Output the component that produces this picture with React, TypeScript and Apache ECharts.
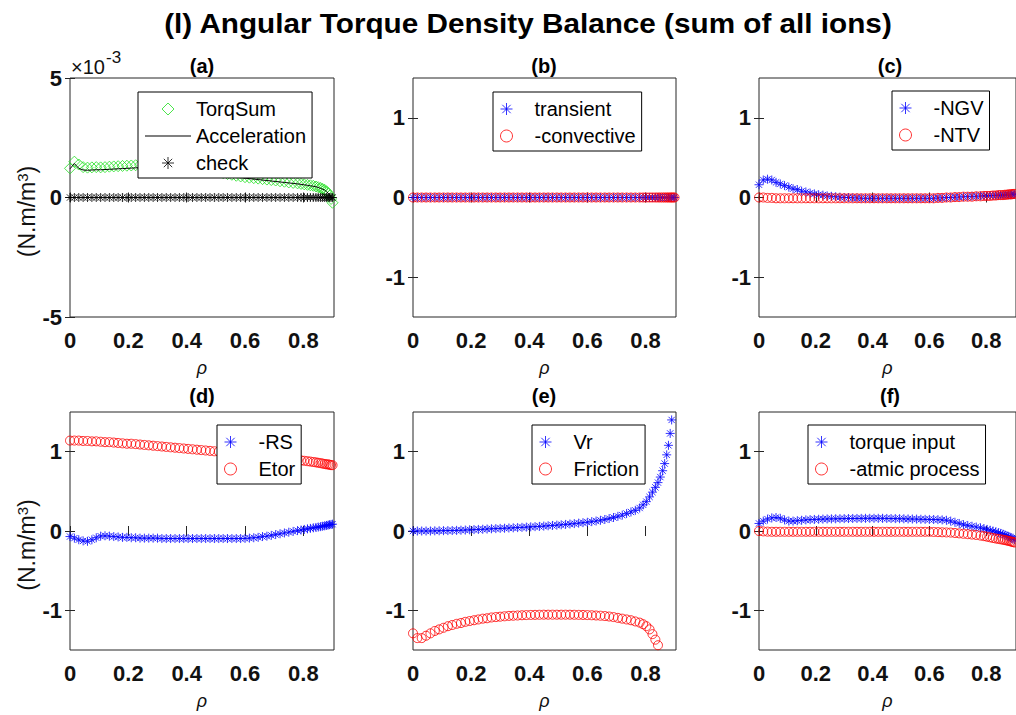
import React, { useEffect, useRef } from 'react';
import * as echarts from 'echarts';

// radial grid (normalized radius rho)
const rho = [
  0, 0.015, 0.03, 0.045, 0.06, 0.075, 0.09, 0.105, 0.12, 0.135,
  0.15, 0.165, 0.18, 0.195, 0.21, 0.225, 0.24, 0.255, 0.27, 0.285,
  0.3, 0.315, 0.33, 0.345, 0.36, 0.375, 0.39, 0.405, 0.42, 0.435,
  0.45, 0.465, 0.48, 0.495, 0.51, 0.525, 0.54, 0.555, 0.57, 0.585,
  0.6, 0.615, 0.63, 0.645, 0.66, 0.675, 0.69, 0.705, 0.72, 0.735,
  0.75, 0.765, 0.78, 0.792, 0.803, 0.814, 0.824, 0.834, 0.843, 0.851,
  0.859, 0.866, 0.873, 0.879, 0.885, 0.89, 0.895, 0.9,
];

// (a) values in units of 1e-3 N.m/m^3
const torqSum = [
  1.22, 1.5, 1.38, 1.27, 1.25, 1.26, 1.27, 1.26, 1.27, 1.29,
  1.3, 1.31, 1.32, 1.33, 1.34, 1.35, 1.36, 1.36, 1.37, 1.37,
  1.36, 1.35, 1.34, 1.33, 1.31, 1.29, 1.27, 1.25, 1.23, 1.2,
  1.17, 1.14, 1.11, 1.08, 1.05, 1.02, 0.98, 0.95, 0.91, 0.88,
  0.85, 0.83, 0.81, 0.79, 0.77, 0.75, 0.73, 0.71, 0.68, 0.66,
  0.63, 0.61, 0.59, 0.57, 0.55, 0.53, 0.51, 0.49, 0.46, 0.43,
  0.4, 0.36, 0.32, 0.26, 0.18, 0.08, -0.06, -0.22,
];
const acceleration = [
  1.2, 1.42, 1.22, 1.15, 1.14, 1.15, 1.16, 1.16, 1.17, 1.18,
  1.19, 1.2, 1.21, 1.22, 1.23, 1.24, 1.25, 1.26, 1.27, 1.27,
  1.27, 1.27, 1.26, 1.25, 1.24, 1.22, 1.2, 1.18, 1.16, 1.13,
  1.1, 1.07, 1.04, 1.01, 0.98, 0.95, 0.92, 0.89, 0.86, 0.83,
  0.81, 0.79, 0.77, 0.75, 0.73, 0.71, 0.69, 0.67, 0.65, 0.63,
  0.61, 0.59, 0.57, 0.55, 0.53, 0.51, 0.49, 0.47, 0.45, 0.42,
  0.38, 0.35, 0.31, 0.25, 0.18, 0.1, 0.02, -0.08,
];
const check = [
  0, 0, 0, 0, 0, 0, 0, 0, 0, 0,
  0, 0, 0, 0, 0, 0, 0, 0, 0, 0,
  0, 0, 0, 0, 0, 0, 0, 0, 0, 0,
  0, 0, 0, 0, 0, 0, 0, 0, 0, 0,
  0, 0, 0, 0, 0, 0, 0, 0, 0, 0,
  0, 0, 0, 0, 0, 0, 0, 0, 0, 0,
  0, 0, 0, 0, 0, 0, 0, 0,
];

// (b)
const transient = [
  0, 0, 0, 0, 0, 0, 0, 0, 0, 0,
  0, 0, 0, 0, 0, 0, 0, 0, 0, 0,
  0, 0, 0, 0, 0, 0, 0, 0, 0, 0,
  0, 0, 0, 0, 0, 0, 0, 0, 0, 0,
  0, 0, 0, 0, 0, 0, 0, 0, 0, 0,
  0, 0, 0, 0, 0, 0, 0, 0, 0, 0,
  0, 0, 0, 0, 0, 0, 0, 0,
];
const negConvective = [
  0, 0, 0, 0, 0, 0, 0, 0, 0, 0,
  0, 0, 0, 0, 0, 0, 0, 0, 0, 0,
  0, 0, 0, 0, 0, 0, 0, 0, 0, 0,
  0, 0, 0, 0, 0, 0, 0, 0, 0, 0,
  0, 0, 0, 0, 0, 0, 0, 0, 0, 0,
  0, 0, 0, 0, 0, 0, 0, 0, 0, 0,
  0, 0, 0, 0, 0, 0, 0, 0,
];

// (c)
const negNGV = [
  0.16, 0.22, 0.23, 0.22, 0.19, 0.17, 0.15, 0.13, 0.11, 0.1,
  0.08, 0.07, 0.055, 0.045, 0.035, 0.03, 0.02, 0.015, 0.01, 0.005,
  0, 0, -0.005, -0.005, -0.01, -0.01, -0.01, -0.01, -0.01, -0.01,
  -0.01, -0.01, -0.01, -0.01, -0.01, -0.01, -0.01, -0.01, -0.01, -0.01,
  -0.01, -0.01, -0.005, -0.005, 0, 0, 0.005, 0.005, 0.01, 0.01,
  0.015, 0.015, 0.02, 0.02, 0.02, 0.025, 0.025, 0.025, 0.03, 0.03,
  0.03, 0.03, 0.035, 0.035, 0.035, 0.04, 0.04, 0.04,
];
const negNTV = [
  0, 0, -0.005, -0.005, -0.01, -0.01, -0.01, -0.01, -0.01, -0.01,
  -0.01, -0.01, -0.01, -0.01, -0.01, -0.01, -0.01, -0.01, -0.01, -0.01,
  -0.01, -0.01, -0.01, -0.01, -0.01, -0.01, -0.01, -0.01, -0.01, -0.01,
  -0.01, -0.01, -0.01, -0.01, -0.01, -0.01, -0.01, -0.01, -0.01, -0.01,
  -0.01, -0.01, -0.005, -0.005, 0, 0, 0.005, 0.005, 0.01, 0.01,
  0.01, 0.015, 0.015, 0.02, 0.02, 0.02, 0.025, 0.025, 0.03, 0.03,
  0.03, 0.035, 0.035, 0.04, 0.04, 0.04, 0.045, 0.045,
];

// (d)
const negRS = [
  -0.07, -0.09, -0.11, -0.125, -0.13, -0.11, -0.085, -0.065, -0.06, -0.065,
  -0.07, -0.075, -0.08, -0.08, -0.085, -0.085, -0.09, -0.09, -0.09, -0.09,
  -0.09, -0.095, -0.095, -0.095, -0.095, -0.095, -0.095, -0.095, -0.095, -0.095,
  -0.095, -0.095, -0.095, -0.095, -0.095, -0.095, -0.095, -0.095, -0.095, -0.095,
  -0.093, -0.09, -0.085, -0.08, -0.07, -0.065, -0.055, -0.045, -0.035, -0.025,
  -0.015, -0.005, 0.005, 0.012, 0.02, 0.027, 0.033, 0.04, 0.045, 0.05,
  0.055, 0.06, 0.065, 0.07, 0.075, 0.08, 0.083, 0.086,
];
const etor = [
  1.14, 1.14, 1.14, 1.135, 1.135, 1.13, 1.13, 1.125, 1.12, 1.12,
  1.115, 1.11, 1.105, 1.1, 1.1, 1.095, 1.09, 1.085, 1.08, 1.075,
  1.07, 1.065, 1.06, 1.055, 1.05, 1.045, 1.04, 1.035, 1.03, 1.025,
  1.02, 1.015, 1.01, 1.005, 1.0, 0.995, 0.99, 0.985, 0.98, 0.975,
  0.97, 0.965, 0.96, 0.955, 0.95, 0.94, 0.935, 0.93, 0.92, 0.915,
  0.91, 0.905, 0.895, 0.89, 0.885, 0.88, 0.875, 0.87, 0.865, 0.86,
  0.855, 0.85, 0.845, 0.84, 0.84, 0.835, 0.83, 0.83,
];

// (e)
const vr = [
  0, 0, 0, 0, 0, 0.002, 0.003, 0.004, 0.005, 0.006,
  0.008, 0.01, 0.012, 0.015, 0.018, 0.02, 0.022, 0.025, 0.028, 0.03,
  0.033, 0.035, 0.038, 0.04, 0.043, 0.046, 0.049, 0.052, 0.055, 0.058,
  0.062, 0.066, 0.07, 0.074, 0.078, 0.083, 0.088, 0.093, 0.099, 0.105,
  0.11, 0.118, 0.126, 0.135, 0.145, 0.157, 0.17, 0.185, 0.2, 0.22,
  0.24, 0.26, 0.29, 0.33, 0.37, 0.43, 0.49, 0.55, 0.61, 0.68,
  0.76, 0.85, 0.96, 1.08, 1.23, 1.4, 1.62, 1.85,
];
const friction = [
  -1.29, -1.35, -1.35, -1.32, -1.29, -1.26, -1.24, -1.22, -1.2, -1.185,
  -1.17, -1.16, -1.145, -1.135, -1.125, -1.115, -1.105, -1.1, -1.09, -1.085,
  -1.08, -1.075, -1.07, -1.068, -1.065, -1.062, -1.06, -1.058, -1.057, -1.056,
  -1.055, -1.055, -1.055, -1.055, -1.055, -1.055, -1.055, -1.056, -1.057, -1.058,
  -1.06, -1.062, -1.065, -1.068, -1.072, -1.078, -1.085, -1.095, -1.105, -1.115,
  -1.125, -1.14, -1.155, -1.175, -1.2, -1.24, -1.3, -1.37, -1.44, -1.53,
  -1.63, -1.75, -1.9, -2.05, -2.2, -2.4, -2.6, -2.8,
];

// (f)
const torqueInput = [
  0.095, 0.125, 0.15, 0.165, 0.17, 0.16, 0.14, 0.125, 0.125, 0.13,
  0.135, 0.14, 0.143, 0.146, 0.148, 0.15, 0.152, 0.153, 0.154, 0.155,
  0.156, 0.157, 0.158, 0.158, 0.159, 0.16, 0.16, 0.16, 0.16, 0.16,
  0.158, 0.157, 0.156, 0.155, 0.154, 0.152, 0.151, 0.15, 0.148, 0.147,
  0.146, 0.145, 0.143, 0.14, 0.135, 0.125, 0.11, 0.095, 0.08, 0.07,
  0.06, 0.05, 0.04, 0.03, 0.02, 0.01, 0, -0.01, -0.02, -0.03,
  -0.04, -0.05, -0.06, -0.07, -0.08, -0.09, -0.1, -0.11,
];
const negAtomic = [
  0, -0.005, -0.008, -0.01, -0.01, -0.01, -0.01, -0.01, -0.01, -0.01,
  -0.01, -0.01, -0.01, -0.01, -0.01, -0.01, -0.01, -0.01, -0.01, -0.01,
  -0.01, -0.01, -0.01, -0.01, -0.01, -0.01, -0.01, -0.01, -0.01, -0.01,
  -0.01, -0.01, -0.01, -0.01, -0.01, -0.01, -0.01, -0.01, -0.01, -0.01,
  -0.01, -0.012, -0.014, -0.016, -0.018, -0.02, -0.025, -0.03, -0.035, -0.04,
  -0.045, -0.05, -0.058, -0.065, -0.072, -0.08, -0.088, -0.095, -0.1, -0.105,
  -0.11, -0.115, -0.12, -0.125, -0.13, -0.135, -0.14, -0.145,
];

const xTicks = [0, 0.2, 0.4, 0.6, 0.8];
const yTicks = [-1, 0, 1];
const yTicksA = [-5, 0, 5];
const panelTitles = ['(a)', '(b)', '(c)', '(d)', '(e)', '(f)'];
const mainTitle = '(l) Angular Torque Density Balance (sum of all ions)';

// ---------- layout & style ----------
const FONT = '"Liberation Sans", Arial, Helvetica, sans-serif';
const AX = '#262626';
const BLUE = '#0000ff';
const RED = '#ff0000';
const GREEN = '#1fe01f';
const BLACK = '#000000';
const XMAX = 0.905;
const ASTERISK = 'path://M5 0L5 10M0 5L10 5M1.5 1.5L8.5 8.5M8.5 1.5L1.5 8.5';
const DIAMOND = 'path://M5 0L10 5L5 10L0 5Z';
const LINE_ICON = 'path://M0 0L50 0L50 1.1L0 1.1Z';

const gridBoxes = [
  { left: 70, top: 78, width: 264, height: 239 },
  { left: 413, top: 78, width: 263, height: 239 },
  { left: 759, top: 78, width: 263, height: 239 },
  { left: 70, top: 412, width: 264, height: 238 },
  { left: 413, top: 412, width: 263, height: 238 },
  { left: 759, top: 412, width: 263, height: 238 },
];

const pairs = (ys: number[]) => rho.map((r, i) => [r, ys[i]]);

const hollow = (c: string) => ({ color: 'rgba(0,0,0,0)', borderColor: c, borderWidth: 1 });

function scatter(name: string, ys: number[], gi: number, kind: 'star' | 'circle' | 'diamond', color: string) {
  return {
    type: 'scatter',
    name,
    xAxisIndex: gi * 2,
    yAxisIndex: gi * 2,
    data: pairs(ys),
    clip: true,
    symbol: kind === 'star' ? ASTERISK : kind === 'diamond' ? DIAMOND : 'circle',
    symbolSize: kind === 'star' ? 9 : kind === 'diamond' ? 11 : 9,
    symbolKeepAspect: true,
    itemStyle: hollow(color),
    emphasis: { disabled: true },
  };
}

function xAxes(gi: number) {
  const tick = { inside: true, length: 5, lineStyle: { color: AX, width: 1 }, customValues: xTicks };
  return [
    {
      type: 'value', gridIndex: gi, min: 0, max: XMAX, position: 'bottom',
      axisLine: { show: false }, splitLine: { show: false },
      axisTick: tick,
      axisLabel: { customValues: xTicks, fontSize: 22, fontWeight: 'bold', color: '#111', fontFamily: FONT, margin: 12 },
      name: 'ρ', nameLocation: 'middle', nameGap: 42,
      nameTextStyle: { fontSize: 18, fontStyle: 'italic', fontFamily: FONT, color: '#111' },
    },
    {
      type: 'value', gridIndex: gi, min: 0, max: XMAX, position: 'top',
      axisLine: { show: false }, splitLine: { show: false },
      axisTick: tick, axisLabel: { show: false },
    },
  ];
}

function yAxes(gi: number) {
  const isA = gi === 0;
  const ticks = isA ? yTicksA : yTicks;
  const tick = { inside: true, length: 5, lineStyle: { color: AX, width: 1 }, customValues: ticks };
  const withName = gi === 0 || gi === 3;
  return [
    {
      type: 'value', gridIndex: gi, min: isA ? -5 : -1.5, max: isA ? 5 : 1.5, position: 'left',
      axisLine: { show: false }, splitLine: { show: false },
      axisTick: tick,
      axisLabel: { customValues: ticks, fontSize: 22, fontWeight: 'bold', color: '#111', fontFamily: FONT, margin: 8 },
      name: withName ? '(N.m/m{s|3})' : '', nameLocation: 'middle', nameGap: 32, nameRotate: 90,
      nameTextStyle: {
        fontSize: 23, fontFamily: FONT, color: '#111', padding: [0, 28, 0, 0],
        rich: { s: { fontSize: 15, fontFamily: FONT, color: '#111', verticalAlign: 'top', lineHeight: 16 } },
      },
    },
    {
      type: 'value', gridIndex: gi, min: isA ? -5 : -1.5, max: isA ? 5 : 1.5, position: 'right',
      axisLine: { show: false }, splitLine: { show: false },
      axisTick: tick, axisLabel: { show: false },
    },
  ];
}

const legendBase = {
  orient: 'vertical',
  backgroundColor: '#fff',
  borderColor: BLACK,
  borderWidth: 1,
  borderRadius: 0,
  padding: [7, 6, 5, 7],
  itemWidth: 46,
  itemHeight: 12,
  itemGap: 7,
  selectedMode: false,
  symbolKeepAspect: true,
  itemStyle: { borderWidth: 1 },
  textStyle: { fontSize: 20, fontFamily: FONT, color: '#000', lineHeight: 20 },
};

const legendPos = [
  {
    left: 138, top: 92,
    data: [
      'TorqSum',
      { name: 'Acceleration', icon: LINE_ICON, itemStyle: { color: BLACK, borderWidth: 0 } },
      'check',
    ],
  },
  { left: 493, top: 92, data: ['transient', '-convective'] },
  { left: 892, top: 91, data: ['-NGV', '-NTV'] },
  { left: 217, top: 425, data: ['-RS', 'Etor'] },
  { left: 532, top: 425, data: ['Vr', 'Friction'] },
  { left: 808, top: 425, data: ['torque input', '-atmic process'] },
];

export default function App() {
  const ref = useRef<HTMLDivElement>(null);
  useEffect(() => {
    if (!ref.current) return;
    const chart = echarts.init(ref.current, null, { renderer: 'svg' });
    const grids = gridBoxes.map((g) => ({
      ...g, show: true, borderColor: AX, borderWidth: 1, backgroundColor: '#fff', containLabel: false,
    }));
    const xAxis: any[] = [];
    const yAxis: any[] = [];
    gridBoxes.forEach((_, i) => { xAxis.push(...xAxes(i)); yAxis.push(...yAxes(i)); });

    const series: any[] = [
      scatter('TorqSum', torqSum, 0, 'diamond', GREEN),
      {
        type: 'line', name: 'Acceleration', xAxisIndex: 0, yAxisIndex: 0, data: pairs(acceleration),
        symbol: 'none', showSymbol: false, lineStyle: { color: BLACK, width: 1 }, itemStyle: { color: BLACK },
        emphasis: { disabled: true },
      },
      scatter('check', check, 0, 'star', BLACK),
      scatter('transient', transient, 1, 'star', BLUE),
      scatter('-convective', negConvective, 1, 'circle', RED),
      scatter('-NGV', negNGV, 2, 'star', BLUE),
      scatter('-NTV', negNTV, 2, 'circle', RED),
      scatter('-RS', negRS, 3, 'star', BLUE),
      scatter('Etor', etor, 3, 'circle', RED),
      scatter('Vr', vr, 4, 'star', BLUE),
      scatter('Friction', friction, 4, 'circle', RED),
      scatter('torque input', torqueInput, 5, 'star', BLUE),
      scatter('-atmic process', negAtomic, 5, 'circle', RED),
    ];

    const graphic: any[] = [
      {
        type: 'text', x: 528, y: 23, scaleX: 1.1,
        style: { text: mainTitle, font: `bold 27px ${FONT}`, fill: '#000', textAlign: 'center', textVerticalAlign: 'middle' },
      },
      { type: 'text', x: 71, y: 67, style: { text: '×10', font: `20px ${FONT}`, fill: '#111', textAlign: 'left', textVerticalAlign: 'middle' } },
      { type: 'text', x: 106, y: 57, style: { text: '-3', font: `17px ${FONT}`, fill: '#111', textAlign: 'left', textVerticalAlign: 'middle' } },
    ];
    gridBoxes.forEach((g, i) => {
      graphic.push({
        type: 'text', x: g.left + (i % 3 === 0 ? 132 : 131), y: i < 3 ? 66 : 396,
        style: { text: panelTitles[i], font: `bold 20px ${FONT}`, fill: '#000', textAlign: 'center', textVerticalAlign: 'middle' },
      });
    });

    chart.setOption({
      animation: false,
      backgroundColor: '#fff',
      grid: grids,
      xAxis,
      yAxis,
      legend: legendPos.map((l) => ({ ...legendBase, ...l })),
      series,
      graphic,
    });
    return () => chart.dispose();
  }, []);
  return <div ref={ref} style={{ position: 'fixed', left: 0, top: 0, width: 1016, height: 715, background: '#fff' }} />;
}
